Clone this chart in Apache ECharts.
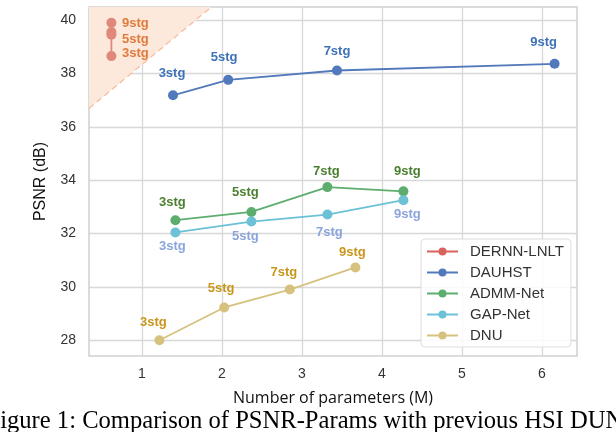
<!DOCTYPE html>
<html><head><meta charset="utf-8">
<script src="https://cdn.jsdelivr.net/npm/echarts@6/dist/echarts.min.js"></script>
<style>html,body{margin:0;padding:0;background:#fff}#c{width:616px;height:432px}</style>
</head><body><div id="c"></div>
<script>
const stages = ['3stg','5stg','7stg','9stg'];
const xTicks = [1,2,3,4,5,6];
const yTicks = [28,30,32,34,36,38,40];
const dernnX = [0.62,0.62,0.62,0.62];
const dernnY = [38.65,39.45,39.55,39.9];
const dauhstX = [1.39,2.08,3.44,6.16];
const dauhstY = [37.18,37.76,38.11,38.36];
const admmX = [1.42,2.37,3.32,4.27];
const admmY = [32.50,32.81,33.74,33.58];
const gapX = [1.42,2.37,3.32,4.27];
const gapY = [32.04,32.45,32.71,33.25];
const dnuX = [1.22,2.03,2.85,3.67];
const dnuY = [28.00,29.23,29.90,30.73];
const regionX = [0.34,1.87];
const regionY = [36.69,40.49];
const xMin = 0.34, xMax = 6.44, yMin = 27.41, yMax = 40.49;

function pairs(xs, ys){ return xs.map((x,i)=>[x, ys[i]]); }

const cfg = [
  {name:'DERNN-LNLT', x:dernnX, y:dernnY, color:'#e0887a', legendColor:'#d9625c', labelColor:'#e07b3c',
   offs:[[24,-3],[24,5],null,[24,1]]},
  {name:'DAUHST', x:dauhstX, y:dauhstY, color:'#5179bb', labelColor:'#3d72b8',
   offs:[[-1,-22],[-4,-22],[0,-19],[-11,-21]]},
  {name:'ADMM-Net', x:admmX, y:admmY, color:'#5dae6e', labelColor:'#4b7f30',
   offs:[[-3,-18],[-6,-19],[-1,-16],[4,-20]]},
  {name:'GAP-Net', x:gapX, y:gapY, color:'#6cc1d6', labelColor:'#8ba5dc',
   offs:[[-3,14],[-6,15],[2,18],[4,14]]},
  {name:'DNU', x:dnuX, y:dnuY, color:'#d6c17e', labelColor:'#c9961c',
   offs:[[-6,-18],[-3,-19],[-6,-17],[-3,-15]]}
];

const series = [{
  type:'line', name:'region', data:pairs(regionX, regionY), symbol:'none', silent:true,
  lineStyle:{color:'#f5bfa0', width:1.3, type:[6,4]},
  areaStyle:{color:'#fce9dc', opacity:1, origin:'end'}, z:1
}];
cfg.forEach(c=>{
  series.push({
    type:'line', name:c.name, symbol:'circle', symbolSize:10,
    itemStyle:{color:c.color}, lineStyle:{color:c.color, width:1.8}, z:3,
    data: pairs(c.x, c.y).map((p,i)=>({
      value:p,
      label:{show: !!c.offs[i], position:'inside', offset: c.offs[i] || [0,0],
        formatter: stages[i], color:c.labelColor, fontWeight:'bold', fontSize:13,
        fontFamily:'Liberation Sans'}
    }))
  });
});

const chart = echarts.init(document.getElementById('c'), null, {renderer:'canvas'});
chart.setOption({
  animation:false,
  grid:{left:89, right:39, top:7, bottom:76, show:true, borderColor:'#d0d0d0', borderWidth:1.5, backgroundColor:'transparent'},
  legend:{
    data: cfg.map(c=>({name:c.name, itemStyle:{color:c.legendColor||c.color}, lineStyle:{color:c.legendColor||c.color}})),
    orient:'vertical', left:421, top:239, itemWidth:31, itemHeight:10, itemGap:6,
    backgroundColor:'rgba(255,255,255,0.85)', borderColor:'#dddddd', borderWidth:1, borderRadius:4,
    padding:[5,7,4,5],
    textStyle:{fontFamily:'Liberation Sans', fontSize:15, color:'#333', padding:[0,0,0,7]}
  },
  xAxis:{type:'value', min:xMin, max:xMax,
    name:'Number of parameters (M)', nameLocation:'middle', nameGap:34,
    nameTextStyle:{fontFamily:'Open Sans', fontSize:16, color:'#111'},
    axisLine:{show:false}, axisTick:{show:false, customValues:xTicks},
    axisLabel:{customValues:xTicks, fontFamily:'Liberation Sans', fontSize:14, color:'#333', margin:11},
    splitLine:{show:true, lineStyle:{color:'#d8d8d8', width:1.3}}
  },
  yAxis:{type:'value', min:yMin, max:yMax,
    name:'PSNR (dB)', nameLocation:'middle', nameGap:40,
    nameTextStyle:{fontFamily:'Liberation Sans', fontSize:16, color:'#111'},
    axisLine:{show:false}, axisTick:{show:false, customValues:yTicks},
    axisLabel:{customValues:yTicks, fontFamily:'Liberation Sans', fontSize:14, color:'#333', margin:13},
    splitLine:{show:true, lineStyle:{color:'#d8d8d8', width:1.3}}
  },
  graphic:[{type:'text', left:-13.5, top:409, silent:true,
    style:{text:'Figure 1: Comparison of PSNR-Params with previous HSI DUNs', fontFamily:'Liberation Serif', fontSize:24.6, fill:'#000'}}],
  series: series
});
</script></body></html>
